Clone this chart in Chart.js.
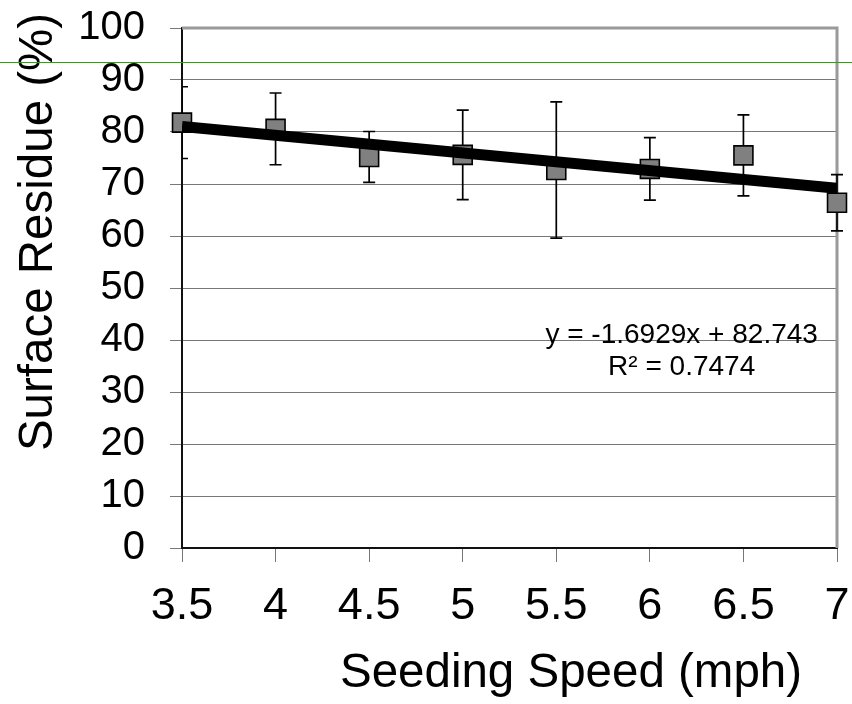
<!DOCTYPE html>
<html><head><meta charset="utf-8">
<script src="https://cdn.jsdelivr.net/npm/chart.js@4.4.0/dist/chart.umd.min.js"></script>
<style>
html,body{margin:0;padding:0;background:#fff;}
#wrap{position:relative;width:852px;height:704px;overflow:hidden;}
#c{position:absolute;left:0;top:0;}
#g{position:absolute;left:0;top:62px;width:852px;height:1px;background:#4a8c3a;}
</style></head><body>
<div id="wrap"><canvas id="c" width="852" height="704"></canvas><div id="g"></div></div>
<script>
// ---- data ----
const speeds   = [3.5, 4, 4.5, 5, 5.5, 6, 6.5, 7];            // mph
const residue  = [81.8, 80.6, 75.2, 75.6, 72.7, 72.9, 75.5, 66.4]; // %
const errors   = [6.9, 6.9, 4.9, 8.6, 13.1, 6.0, 7.8, 5.4];     // +/- error bar
const xTickValues = [3.5, 4, 4.5, 5, 5.5, 6, 6.5, 7];
const yTickValues = [0, 10, 20, 30, 40, 50, 60, 70, 80, 90, 100];
// Trendline shown on chart (Excel linear fit on point index 1..8)
const trendSlope = -1.6929;
const trendIntercept = 82.743;
const trendLabels = ['y = -1.6929x + 82.743', 'R\u00B2 = 0.7474'];
const trendLabelAt = [6.17, 39.4];
const xTitle = 'Seeding Speed (mph)';
const yTitle = 'Surface Residue (%)';

const FONT = '"Liberation Sans", Arial, Helvetica, sans-serif';

const trendData = [
  {x: speeds[0], y: trendIntercept + trendSlope * 1},
  {x: speeds[speeds.length - 1], y: trendIntercept + trendSlope * speeds.length}
];

const decor = {
  id: 'decor',
  beforeDatasetsDraw(chart) {
    const {ctx, chartArea: a, scales: {x, y}} = chart;
    // plot frame (top & right)
    ctx.save();
    ctx.strokeStyle = '#9a9a9a';
    ctx.lineWidth = 3;
    ctx.beginPath();
    ctx.moveTo(a.left, a.top);
    ctx.lineTo(a.right, a.top);
    ctx.lineTo(a.right, a.bottom);
    ctx.stroke();
    ctx.restore();
    // error bars
    ctx.save();
    ctx.beginPath();
    ctx.rect(a.left, 0, chart.width - a.left, chart.height);
    ctx.clip();
    ctx.strokeStyle = '#000';
    ctx.lineWidth = 1.7;
    speeds.forEach((s, i) => {
      const px = x.getPixelForValue(s);
      const t = y.getPixelForValue(residue[i] + errors[i]);
      const b = y.getPixelForValue(residue[i] - errors[i]);
      ctx.beginPath();
      ctx.moveTo(px, t); ctx.lineTo(px, b);
      ctx.moveTo(px - 6, t); ctx.lineTo(px + 6, t);
      ctx.moveTo(px - 6, b); ctx.lineTo(px + 6, b);
      ctx.stroke();
    });
    ctx.restore();
  },
  afterDraw(chart) {
    const {ctx, chartArea: a, scales: {x, y}} = chart;
    ctx.save();
    ctx.fillStyle = '#000';
    // trendline equation
    ctx.font = '28px ' + FONT;
    ctx.textAlign = 'center';
    ctx.textBaseline = 'alphabetic';
    const ex = x.getPixelForValue(trendLabelAt[0]);
    const ey = y.getPixelForValue(trendLabelAt[1]);
    trendLabels.forEach((t, i) => ctx.fillText(t, ex, ey + i * 32));
    // axis titles
    ctx.font = '47.5px ' + FONT;
    ctx.fillText(xTitle, a.left + 389, a.bottom + 139);
    ctx.translate(a.left - 130, a.top + 204);
    ctx.rotate(-Math.PI / 2);
    ctx.fillText(yTitle, 0, 0);
    ctx.restore();
  }
};

const noPad = s => { s.paddingTop = 0; s.paddingBottom = 0; s.paddingLeft = 0; s.paddingRight = 0; };

new Chart(document.getElementById('c'), {
  type: 'scatter',
  data: {
    datasets: [
      {
        type: 'line',
        label: 'trend',
        data: trendData,
        borderColor: '#000',
        borderWidth: 11,
        borderCapStyle: 'butt',
        pointRadius: 0,
        fill: false,
        order: 0
      },
      {
        label: 'residue',
        data: speeds.map((s, i) => ({x: s, y: residue[i]})),
        pointStyle: 'rect',
        pointRadius: 13.4,
        backgroundColor: '#808080',
        borderColor: '#000',
        borderWidth: 1.6,
        clip: false,
        order: 1
      }
    ]
  },
  options: {
    responsive: false,
    animation: false,
    layout: {padding: {top: 28, right: 14, left: 0, bottom: 0}},
    plugins: {legend: {display: false}, tooltip: {enabled: false}},
    scales: {
      x: {
        type: 'linear',
        min: 3.5, max: 7,
        afterBuildTicks: s => { s.ticks = xTickValues.map(v => ({value: v})); },
        afterFit: s => { s.height = 156; noPad(s); },
        grid: {drawOnChartArea: false, drawTicks: true, tickLength: 14, tickColor: '#777', tickWidth: 1},
        border: {color: '#111', width: 2},
        ticks: {
          autoSkip: false, maxRotation: 0, padding: 18, color: '#000',
          font: {family: FONT, size: 45, lineHeight: 1.2},
          callback: v => String(v)
        }
      },
      y: {
        type: 'linear',
        min: 0, max: 100,
        afterBuildTicks: s => { s.ticks = yTickValues.map(v => ({value: v})); },
        afterFit: s => { s.width = 182; noPad(s); },
        grid: {color: '#777', lineWidth: 1, tickLength: 12, tickColor: '#777'},
        border: {color: '#111', width: 2},
        ticks: {
          autoSkip: false, padding: 25, color: '#000',
          font: {family: FONT, size: 40, lineHeight: 1.2},
          callback: v => String(v)
        }
      }
    }
  },
  plugins: [decor]
});
</script>
</body></html>
